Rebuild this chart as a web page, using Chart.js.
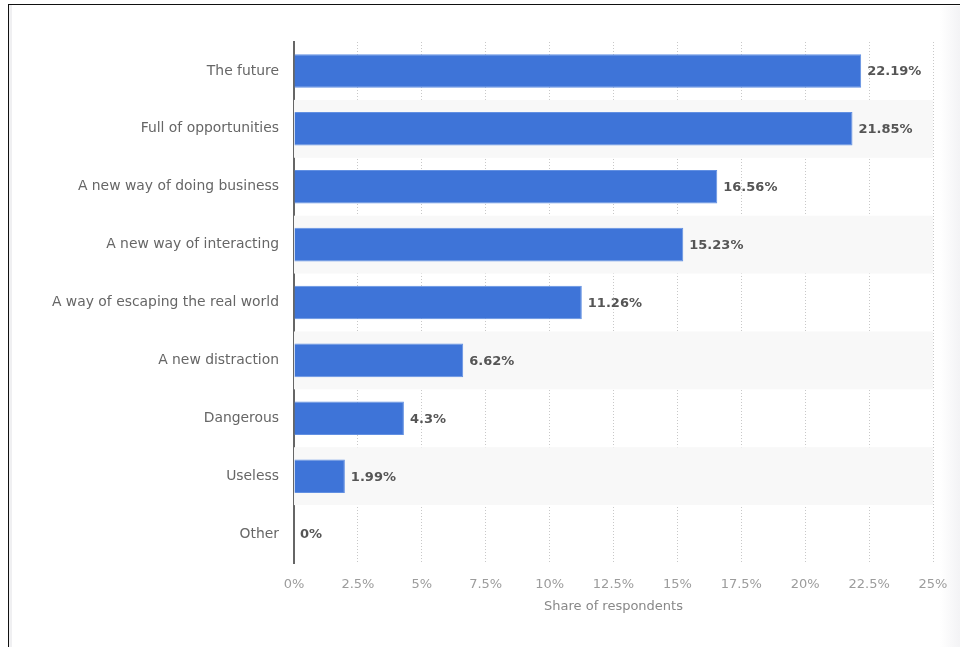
<!DOCTYPE html>
<html>
<head>
<meta charset="utf-8">
<script src="https://cdn.jsdelivr.net/npm/chart.js@4/dist/chart.umd.min.js"></script>
<style>
    html, body { margin: 0; padding: 0; background: #fff; overflow: hidden; }
    #wrap { position: relative; width: 960px; height: 647px; }
    #frame {
        position: absolute; left: 8px; top: 4px; right: -20px; bottom: -20px;
        border: 1.5px solid #111;
        box-shadow: inset 3px 0 0 #f0f0f2;
        pointer-events: none;
    }
    #shade {
        position: absolute; left: 940px; top: 6px; width: 20px; bottom: 0;
        background: linear-gradient(to right, #ffffff, #f3f3f5);
    }
    canvas { position: absolute; left: 0; top: 0; }
</style>
</head>
<body>
<div id="wrap">
    <div id="shade"></div>
    <canvas id="myChart" width="960" height="647"></canvas>
    <div id="frame"></div>
</div>
<script>
var categorie = [
    'The future',
    'Full of opportunities',
    'A new way of doing business',
    'A new way of interacting',
    'A way of escaping the real world',
    'A new distraction',
    'Dangerous',
    'Useless',
    'Other'
];
var valori = [22.19, 21.85, 16.56, 15.23, 11.26, 6.62, 4.3, 1.99, 0];
var etichette = ['22.19%', '21.85%', '16.56%', '15.23%', '11.26%', '6.62%', '4.3%', '1.99%', '0%'];

// righe alternate grigie dietro le barre
var bande = {
    id: 'bande',
    beforeDatasetsDraw: function(chart) {
        var ctx = chart.ctx;
        var area = chart.chartArea;
        var y = chart.scales.y;
        var passo = (area.bottom - area.top) / categorie.length;
        ctx.save();
        ctx.fillStyle = '#f8f8f8';
        for (var i = 1; i < categorie.length; i += 2) {
            var cy = y.getPixelForValue(i);
            ctx.fillRect(area.left, cy - passo / 2, area.right - area.left, passo);
        }
        ctx.restore();
    }
};

// valori accanto alle barre
var valoriBarre = {
    id: 'valoriBarre',
    afterDatasetsDraw: function(chart) {
        var ctx = chart.ctx;
        var meta = chart.getDatasetMeta(0);
        ctx.save();
        ctx.font = 'bold 13px "DejaVu Sans", sans-serif';
        ctx.fillStyle = '#555';
        ctx.textAlign = 'left';
        ctx.textBaseline = 'middle';
        for (var i = 0; i < meta.data.length; i++) {
            var bar = meta.data[i];
            ctx.fillText(etichette[i], bar.x + 6, bar.y + 1);
        }
        ctx.restore();
    }
};

var ctx = document.getElementById('myChart').getContext('2d');
var myChart = new Chart(ctx, {
    type: 'bar',
    data: {
        labels: categorie,
        datasets: [{
            data: valori,
            backgroundColor: '#3e74d8',
            borderColor: '#6290e2',
            borderWidth: 1,
            categoryPercentage: 1,
            barPercentage: 0.58
        }]
    },
    options: {
        indexAxis: 'y',
        responsive: false,
        animation: false,
        layout: { padding: { left: 0, right: 27, top: 42, bottom: 24 } },
        plugins: {
            legend: { display: false },
            tooltip: { enabled: false }
        },
        scales: {
            x: {
                min: 0,
                max: 25,
                ticks: {
                    stepSize: 2.5,
                    padding: 14,
                    color: '#9c9c9c',
                    font: { family: '"DejaVu Sans", sans-serif', size: 13 },
                    callback: function(v) { return v + '%'; }
                },
                grid: {
                    color: '#c8c8c8',
                    drawTicks: false,
                    tickBorderDash: [1, 2]
                },
                border: { display: false, dash: [1, 2] },
                title: {
                    display: true,
                    text: 'Share of respondents',
                    color: '#888',
                    padding: { top: 4, bottom: 9 },
                    font: { family: '"DejaVu Sans", sans-serif', size: 13 }
                },
                afterFit: function(scale) {
                    scale.height = 60;
                    scale.paddingLeft = 0;
                    scale.paddingRight = 0;
                }
            },
            y: {
                ticks: {
                    color: '#666',
                    padding: 15,
                    font: { family: '"DejaVu Sans", sans-serif', size: 13.9 }
                },
                grid: { display: false, drawTicks: false },
                border: { color: '#666', width: 2 },
                afterFit: function(scale) { scale.width = 294; }
            }
        }
    },
    plugins: [bande, valoriBarre]
});
</script>
</body>
</html>
